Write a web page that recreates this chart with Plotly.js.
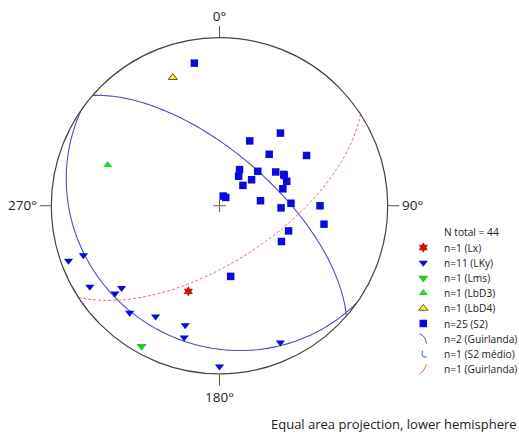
<!DOCTYPE html>
<html>
<head>
<meta charset="utf-8">
<script src="https://cdn.plot.ly/plotly-3.0.1.min.js"></script>
<style>html,body{margin:0;padding:0;background:#fff;}#chart{width:519px;height:435px;}</style>
</head>
<body>
<div id="chart"></div>
<script>
// ---- Data (trend / plunge in degrees, read from the stereonet) ----
const lxTrend = [200];
const lxPlunge = [45];
const lkyTrend = [250, 250, 238, 230, 230, 220, 210, 196, 195, 156, 180];
const lkyPlunge = [5, 15, 10, 25, 20, 18, 25, 27, 20, 12, 5];
const lmsTrend = [209];
const lmsPlunge = [5];
const lbd3Trend = [290];
const lbd3Plunge = [30];
const lbd4Trend = [340];
const lbd4Plunge = [20];
const s2Trend = [350, 40, 25, 44, 60, 29, 48, 59, 65, 33, 51, 70, 49, 75, 21, 37, 83, 88, 90, 92, 100, 110, 120, 171, 64];
const s2Plunge = [15, 43, 55, 55, 40, 70, 65, 58, 55, 73, 70, 55, 75, 58, 85, 85, 70, 55, 40, 60, 37, 54, 55, 55, 55];
// planes: dip direction / dip
const guirBlueDipDir = [41];
const guirBlueDip = [65];
const s2MeanDipDir = [215];
const s2MeanDip = [19];
const guirRedDipDir = [147];
const guirRedDip = [63];

const angleTicks = [0, 90, 180, 270];
const angleLabels = ['0°', '90°', '180°', '270°'];
const legendTitle = 'N total = 44';
const legendLabels = ['n=1 (Lx)', 'n=11 (LKy)', 'n=1 (Lms)', 'n=1 (LbD3)', 'n=1 (LbD4)', 'n=25 (S2)', 'n=2 (Guirlanda)', 'n=1 (S2 médio)', 'n=1 (Guirlanda)'];
const footer = 'Equal area projection, lower hemisphere';

// ---- projection helpers ----
const D = Math.PI / 180;
const eqArea = p => Math.sqrt(2) * Math.sin((90 - p) / 2 * D);
function greatCircle(dd, dip) {
  const s = [Math.sin((dd - 90) * D), Math.cos((dd - 90) * D), 0];
  const d = [Math.cos(dip * D) * Math.sin(dd * D), Math.cos(dip * D) * Math.cos(dd * D), Math.sin(dip * D)];
  const th = [], r = [];
  for (let t = 0; t <= 180; t += 1) {
    const c = Math.cos(t * D), sn = Math.sin(t * D);
    const v = [c * s[0] + sn * d[0], c * s[1] + sn * d[1], c * s[2] + sn * d[2]];
    th.push(Math.atan2(v[0], v[1]) / D);
    r.push(Math.sqrt(Math.max(0, 1 - v[2])));
  }
  return {th, r};
}

const FONT = '"Open Sans", "DejaVu Sans", sans-serif';
const traces = [];
function pts(trend, plunge, marker) {
  traces.push({type: 'scatterpolar', mode: 'markers', theta: trend, r: plunge.map(eqArea),
    marker: marker, hoverinfo: 'skip', showlegend: false, cliponaxis: false});
}
function planes(dds, dips, line) {
  dds.forEach((dd, i) => {
    const g = greatCircle(dd, dips[i]);
    traces.push({type: 'scatterpolar', mode: 'lines', theta: g.th, r: g.r, line: line,
      hoverinfo: 'skip', showlegend: false});
  });
}

const BLUE = '#0a0ae0';
const PLANE_BLUE = '#5050c0';
const PLANE_RED = '#e06a6a';
const mk = {
  lx: {symbol: 'hexagram', size: 8, color: '#d01010'},
  lky: {symbol: 'triangle-down', size: 8, color: BLUE},
  lms: {symbol: 'triangle-down', size: 9, color: '#30c030'},
  lbd3: {symbol: 'triangle-up', size: 8, color: '#30d030'},
  lbd4: {symbol: 'triangle-up', size: 8, color: '#ffff00', line: {color: '#555', width: 1}},
  s2: {symbol: 'square', size: 7.5, color: BLUE}
};

planes(guirBlueDipDir, guirBlueDip, {color: PLANE_BLUE, width: 1.1});
planes(s2MeanDipDir, s2MeanDip, {color: PLANE_BLUE, width: 1.1});
planes(guirRedDipDir, guirRedDip, {color: PLANE_RED, width: 1, dash: '3px,2px'});
// centre cross
traces.push({type: 'scatterpolar', mode: 'markers', theta: [0], r: [0],
  marker: {symbol: 'cross-thin', size: 9, color: '#666', line: {color: '#666', width: 1}},
  hoverinfo: 'skip', showlegend: false});
pts(s2Trend, s2Plunge, mk.s2);
pts(lkyTrend, lkyPlunge, mk.lky);
pts(lmsTrend, lmsPlunge, mk.lms);
pts(lbd3Trend, lbd3Plunge, mk.lbd3);
pts(lbd4Trend, lbd4Plunge, mk.lbd4);
pts(lxTrend, lxPlunge, mk.lx);

// ---- custom legend (pixel-like axis units) ----
const rowY = i => 232.3 + 15.2 * i;
const symX = 423.3, txtX = 441.5;
const legMarkers = [mk.lx, mk.lky, mk.lms, mk.lbd3, mk.lbd4, mk.s2];
legMarkers.forEach((m, i) => {
  traces.push({type: 'scatter', mode: 'markers', x: [symX], y: [rowY(i + 1)], xaxis: 'x2', yaxis: 'y2',
    marker: Object.assign({}, m), hoverinfo: 'skip', showlegend: false, cliponaxis: false});
});
const annotations = [];
const LFONT = {family: FONT, size: 10.2, color: '#222'};
annotations.push({xref: 'x2', yref: 'y2', x: txtX, y: rowY(0), text: legendTitle, showarrow: false,
  xanchor: 'left', yanchor: 'middle', font: LFONT});
legendLabels.forEach((t, i) => {
  annotations.push({xref: 'x2', yref: 'y2', x: txtX, y: rowY(i + 1), text: t, showarrow: false,
    xanchor: 'left', yanchor: 'middle', font: LFONT});
});
annotations.push({xref: 'paper', yref: 'paper', x: 1, y: 11 / 435, text: footer, showarrow: false,
  xanchor: 'right', yanchor: 'middle', font: {family: FONT, size: 13, color: '#222'}});

const y7 = rowY(7), y8 = rowY(8), y9 = rowY(9);
const shapes = [
  {type: 'path', xref: 'x2', yref: 'y2', path: `M 419.5 ${y7 - 5} Q 425.5 ${y7 - 3} 426.5 ${y7 + 5}`,
    line: {color: PLANE_BLUE, width: 1}},
  {type: 'path', xref: 'x2', yref: 'y2', path: `M 422.5 ${y8 - 3} Q 420.5 ${y8 + 4} 426.5 ${y8 + 3}`,
    line: {color: PLANE_BLUE, width: 1}},
  {type: 'path', xref: 'x2', yref: 'y2', path: `M 419.5 ${y9 + 5} Q 425 ${y9 + 2} 426.5 ${y9 - 5}`,
    line: {color: PLANE_RED, width: 1}}
];

const layout = {
  width: 519, height: 435,
  margin: {l: 0, r: 0, t: 0, b: 0},
  paper_bgcolor: '#fff',
  showlegend: false,
  font: {family: FONT, color: '#222'},
  polar: {
    domain: {x: [51.3 / 519, 387.7 / 519], y: [61 / 435, 397.5 / 435]},
    bgcolor: '#fff',
    radialaxis: {visible: false, range: [0, 1], showgrid: false},
    angularaxis: {
      rotation: 90, direction: 'clockwise',
      tickmode: 'array', tickvals: angleTicks, ticktext: angleLabels,
      ticks: 'outside', ticklen: 11, tickcolor: '#555', tickwidth: 1,
      showline: true, linecolor: '#444', linewidth: 1.2, showgrid: false,
      tickfont: {family: FONT, size: 13.5, color: '#222'}
    }
  },
  xaxis2: {domain: [405 / 519, 1], range: [405, 519], visible: false, fixedrange: true},
  yaxis2: {domain: [50 / 435, 213 / 435], range: [385, 222], visible: false, fixedrange: true, anchor: 'x2'},
  annotations: annotations,
  shapes: shapes
};
layout.xaxis2.anchor = 'y2';

Plotly.newPlot('chart', traces, layout, {staticPlot: true, displayModeBar: false});
</script>
</body>
</html>
